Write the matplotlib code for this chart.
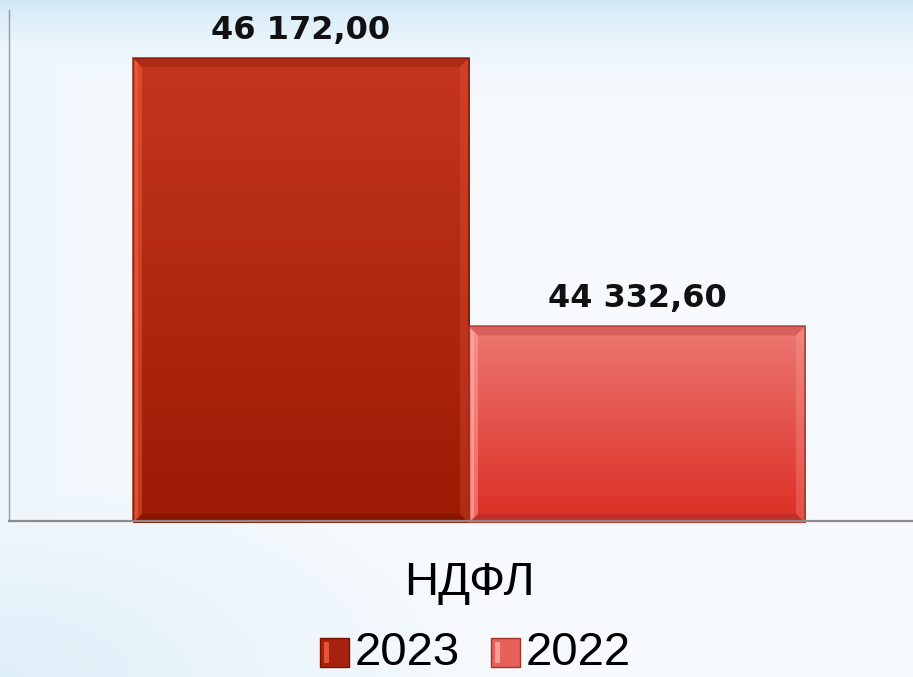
import numpy as np
import matplotlib
matplotlib.use("Agg")
import matplotlib.pyplot as plt
from matplotlib.patches import Rectangle, Polygon
from matplotlib.colors import LinearSegmentedColormap, to_rgb

# ---- data ----
category = "НДФЛ"
series = ["2023", "2022"]
values = [46172.00, 44332.60]
value_labels = ["46 172,00", "44 332,60"]

# ---- style ----
top_cols = ["#C5361F", "#EC7872"]
bot_cols = ["#9C1A04", "#DC2E24"]
hi_cols = ["#F2613F", "#FFB0A8"]
dark_cols = ["#7A1200", "#A8302A"]
leg_cols = ["#A82010", "#E8605A"]

W, H = 913, 677
fig = plt.figure(figsize=(W / 100, H / 100), dpi=100)
label_font = ["Liberation Sans", "DejaVu Sans"]

# background gradient
bg = fig.add_axes([0, 0, 1, 1], zorder=-10)
yy, xx = np.mgrid[0:H, 0:W]
white = np.array(to_rgb("#F8FBFE"))
blue = np.array(to_rgb("#C6E3F4"))
t_top = np.clip(np.exp(-yy / 40.0), 0, 1) * 0.8
d_bl = np.sqrt(((xx - 0) / 520.0) ** 2 + ((yy - H) / 260.0) ** 2)
t_bl = np.clip(1 - d_bl, 0, 1) * 0.5
d_l = np.clip(1 - xx / 250.0, 0, 1) * 0.18
t = np.clip(np.maximum.reduce([t_top, t_bl, d_l]), 0, 1)
img = white[None, None, :] * (1 - t[..., None]) + blue[None, None, :] * t[..., None]
bg.imshow(img, extent=[0, W, H, 0], aspect="auto")
bg.set_xlim(0, W)
bg.set_ylim(H, 0)
bg.axis("off")

# main axes (extends beyond right edge as in reference)
left_px, right_px, top_px, bot_px = 9, 929, 10, 521
ax = fig.add_axes([left_px / W, 1 - bot_px / H, (right_px - left_px) / W, (bot_px - top_px) / H])
ax.patch.set_alpha(0)
ymin, ymax = 43000, 46500
ax.set_xlim(-0.5, 0.5)
ax.set_ylim(ymin, ymax)
ax_w_px = right_px - left_px
ax_h_px = bot_px - top_px
ux = 1.0 / ax_w_px
uy = (ymax - ymin) / ax_h_px

bar_w = 336 * ux
xs = [-bar_w, 0.0]
for i, (x0, v) in enumerate(zip(xs, values)):
    x1 = x0 + bar_w
    y0 = ymin - 2 * uy
    y1 = v
    rect = Rectangle((x0, y0), bar_w, y1 - y0, facecolor="none", edgecolor="none")
    ax.add_patch(rect)
    cmap = LinearSegmentedColormap.from_list("g%d" % i, [bot_cols[i], top_cols[i]])
    grad = np.linspace(0, 1, 256)[:, None]
    im = ax.imshow(grad, extent=[x0, x1, y0, y1], origin="lower", cmap=cmap,
                   aspect="auto", zorder=2, interpolation="bicubic")
    im.set_clip_path(rect)
    b = 9 * ux
    by = 9 * uy
    # bevels
    ax.add_patch(Polygon([(x0, y0), (x0 + b, y0 + by), (x0 + b, y1 - by), (x0, y1)],
                         closed=True, facecolor=hi_cols[i], edgecolor="none", alpha=0.45, zorder=3))
    ax.add_patch(Polygon([(x0 + 2 * ux, y0 + 3 * uy), (x0 + 5 * ux, y0 + 6 * uy),
                          (x0 + 5 * ux, y1 - 6 * uy), (x0 + 2 * ux, y1 - 3 * uy)],
                         closed=True, facecolor=hi_cols[i], edgecolor="none", alpha=0.6, zorder=3))
    ax.add_patch(Polygon([(x0, y1), (x0 + b, y1 - by), (x1 - b, y1 - by), (x1, y1)],
                         closed=True, facecolor=dark_cols[i], edgecolor="none", alpha=0.3, zorder=3))
    ax.add_patch(Polygon([(x1, y0), (x1 - b, y0 + by), (x1 - b, y1 - by), (x1, y1)],
                         closed=True, facecolor=hi_cols[i], edgecolor="none", alpha=0.25, zorder=3))
    ax.add_patch(Polygon([(x0, y0), (x0 + b, y0 + by), (x1 - b, y0 + by), (x1, y0)],
                         closed=True, facecolor=dark_cols[i], edgecolor="none", alpha=0.5, zorder=3))
    ax.add_patch(Rectangle((x0, y0), bar_w, y1 - y0, facecolor="none",
                           edgecolor=dark_cols[i], linewidth=1.2, alpha=0.8, zorder=4))
    ax.text((x0 + x1) / 2, y1 + 19 * uy, value_labels[i], ha="center", va="baseline",
            fontsize=23, fontweight="bold", color="#111111", zorder=5)

for s in ["top", "right"]:
    ax.spines[s].set_visible(False)
ax.spines["left"].set_color("#9a9a9a")
ax.spines["bottom"].set_color("#8c8c8c")
ax.spines["bottom"].set_linewidth(1.6)
ax.spines["bottom"].set_zorder(6)
ax.spines["left"].set_linewidth(1.0)
ax.set_yticks([])
ax.set_xticks([0])
ax.set_xticklabels([category], fontsize=34, family=label_font)
ax.tick_params(axis="x", length=0, pad=29)

# legend (manual, in pixel positions)
leg_x = [320, 491]
for i, lab in enumerate(series):
    px = leg_x[i]
    fig.patches.append(Rectangle((px / W, 1 - 667 / H), 29 / W, 29 / H,
                                 transform=fig.transFigure, facecolor=leg_cols[i],
                                 edgecolor=dark_cols[i], linewidth=1.0))
    fig.patches.append(Rectangle(((px + 4) / W, 1 - 663 / H), 5 / W, 21 / H,
                                 transform=fig.transFigure, facecolor=hi_cols[i],
                                 edgecolor="none", alpha=0.8))
    fig.text((px + 35) / W, 1 - 665 / H, lab, fontsize=34, family=label_font,
             ha="left", va="baseline", color="#000000")

fig.savefig("out.png", dpi=100)
